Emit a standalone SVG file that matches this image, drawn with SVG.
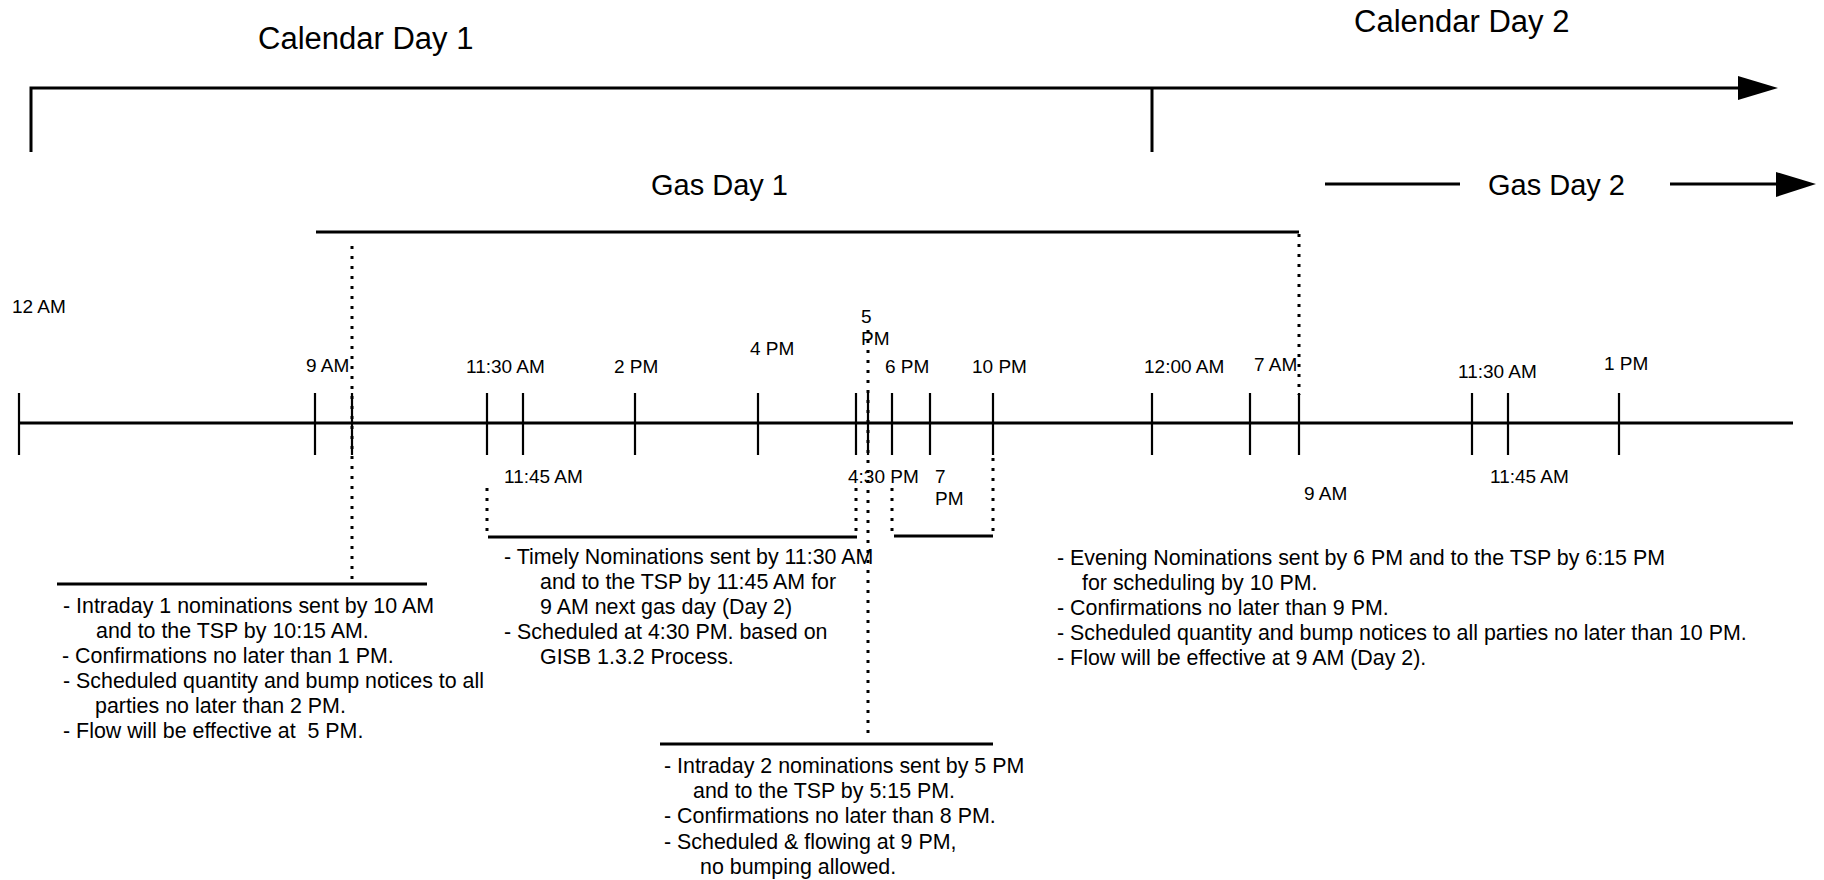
<svg xmlns="http://www.w3.org/2000/svg" width="1824" height="880" viewBox="0 0 1824 880">
<style>
text{font-family:"Liberation Sans",Arial,sans-serif;fill:#000}
.big{font-size:31px}
.gas{font-size:29px}
.lbl{font-size:19px}
.note{font-size:21.4px;white-space:pre}
.solid{stroke:#000;stroke-width:3;fill:none}
.tick{stroke:#000;stroke-width:2.2;fill:none}
.dot{stroke:#000;stroke-width:3;stroke-dasharray:3 7;fill:none}
</style>
<rect width="1824" height="880" fill="#fff"/>
<g id="headers">
<text class="big" x="258" y="49">Calendar Day 1</text>
<text class="big" x="1354" y="32">Calendar Day 2</text>
<text class="gas" x="651" y="195">Gas Day 1</text>
<text class="gas" x="1488" y="195">Gas Day 2</text>
</g>
<g id="connectors">
<path class="solid" d="M31,152 V88 H1742"/>
<polygon points="1738,76 1778,88 1738,100" fill="#000"/>
<path class="solid" d="M1152,88 V152"/>
<path class="solid" d="M316,232 H1299"/>
<path class="solid" d="M1325,184 H1460"/>
<path class="solid" d="M1670,184 H1780"/>
<polygon points="1776,172 1816,184 1776,197" fill="#000"/>
<path class="solid" d="M19,423 H1793"/>
<path class="tick" d="M19,393 V455 M315,393 V455 M352,393 V455 M487,393 V455 M523,393 V455 M635,393 V455 M758,393 V455 M856,393 V455 M868,393 V455 M892,393 V455 M930,393 V455 M993,393 V455 M1152,393 V455 M1250,393 V455 M1299,393 V455 M1472,393 V455 M1508,393 V455 M1619,393 V455"/>
<path class="dot" d="M352,246 V580"/>
<path class="dot" d="M1299,234 V395"/>
<path class="dot" d="M868,330 V736"/>
<path class="dot" d="M487,488 V534"/>
<path class="dot" d="M856,488 V534"/>
<path class="dot" d="M892,488 V534"/>
<path class="dot" d="M993,458 V534"/>
<path class="solid" d="M57,584 H427"/>
<path class="solid" d="M488,537 H857"/>
<path class="solid" d="M894,536 H993"/>
<path class="solid" d="M660,744 H993"/>
</g>
<g id="tick-labels">
<text class="lbl" x="12" y="313">12 AM</text>
<text class="lbl" x="306" y="372">9 AM</text>
<text class="lbl" x="466" y="373">11:30 AM</text>
<text class="lbl" x="614" y="373">2 PM</text>
<text class="lbl" x="750" y="355">4 PM</text>
<text class="lbl" x="861" y="323">5</text>
<text class="lbl" x="861" y="345">PM</text>
<text class="lbl" x="885" y="373">6 PM</text>
<text class="lbl" x="972" y="373">10 PM</text>
<text class="lbl" x="1144" y="373">12:00 AM</text>
<text class="lbl" x="1254" y="371">7 AM</text>
<text class="lbl" x="1458" y="378">11:30 AM</text>
<text class="lbl" x="1604" y="370">1 PM</text>
<text class="lbl" x="504" y="483">11:45 AM</text>
<text class="lbl" x="848" y="483">4:30 PM</text>
<text class="lbl" x="935" y="483">7</text>
<text class="lbl" x="935" y="505">PM</text>
<text class="lbl" x="1304" y="500">9 AM</text>
<text class="lbl" x="1490" y="483">11:45 AM</text>
</g>
<g id="intraday1">
<text class="note" x="63" y="613">- Intraday 1 nominations sent by 10 AM</text>
<text class="note" x="96" y="638">and to the TSP by 10:15 AM.</text>
<text class="note" x="62" y="663">- Confirmations no later than 1 PM.</text>
<text class="note" x="63" y="688">- Scheduled quantity and bump notices to all</text>
<text class="note" x="95" y="713">parties no later than 2 PM.</text>
<text class="note" x="63" y="738">- Flow will be effective at  5 PM.</text>
</g>
<g id="timely">
<text class="note" x="504" y="564">- Timely Nominations sent by 11:30 AM</text>
<text class="note" x="540" y="589">and to the TSP by 11:45 AM for</text>
<text class="note" x="540" y="614">9 AM next gas day (Day 2)</text>
<text class="note" x="504" y="639">- Scheduled at 4:30 PM. based on</text>
<text class="note" x="540" y="664">GISB 1.3.2 Process.</text>
</g>
<g id="intraday2">
<text class="note" x="664" y="773">- Intraday 2 nominations sent by 5 PM</text>
<text class="note" x="693" y="798">and to the TSP by 5:15 PM.</text>
<text class="note" x="664" y="823">- Confirmations no later than 8 PM.</text>
<text class="note" x="664" y="849">- Scheduled &amp; flowing at 9 PM,</text>
<text class="note" x="700" y="874">no bumping allowed.</text>
</g>
<g id="evening">
<text class="note" x="1057" y="565">- Evening Nominations sent by 6 PM and to the TSP by 6:15 PM</text>
<text class="note" x="1082" y="590">for scheduling by 10 PM.</text>
<text class="note" x="1057" y="615">- Confirmations no later than 9 PM.</text>
<text class="note" x="1057" y="640">- Scheduled quantity and bump notices to all parties no later than 10 PM.</text>
<text class="note" x="1057" y="665">- Flow will be effective at 9 AM (Day 2).</text>
</g>
</svg>
